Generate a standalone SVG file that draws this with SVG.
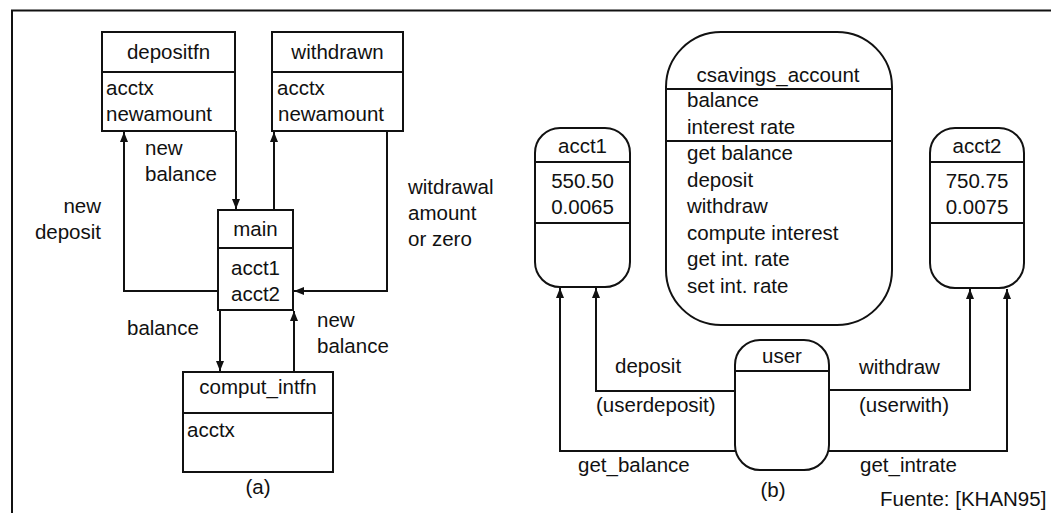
<svg xmlns="http://www.w3.org/2000/svg" width="1051" height="513" viewBox="0 0 1051 513">
  <defs>
    <style>
      text { font-family: "Liberation Sans", Arial, sans-serif; font-size: 20.5px; fill: #111; }
      .c { text-anchor: middle; }
      .r { text-anchor: end; }
      .box { fill: #fff; stroke: #111; stroke-width: 2; }
      .sep { stroke: #111; stroke-width: 2; fill: none; }
      .wire { stroke: #111; stroke-width: 2; fill: none; }
    </style>
    <marker id="arr" viewBox="0 0 10 8" refX="10" refY="4" markerWidth="10" markerHeight="8" markerUnits="userSpaceOnUse" orient="auto">
      <path d="M0,0 L10,4 L0,8 z" fill="#111"/>
    </marker>
  </defs>

  <rect width="1051" height="513" fill="#fff"/>
  <!-- outer frame (right and bottom run past the page) -->
  <rect x="12" y="10.5" width="1100" height="600" fill="none" stroke="#111" stroke-width="2"/>

  <!-- connectors -->
  <g id="connectors">
    <!-- (a) procedural structure -->
    <path class="wire" d="M218,291 H124 V132" marker-end="url(#arr)"/>
    <path class="wire" d="M236,131 V209" marker-end="url(#arr)"/>
    <path class="wire" d="M274,210 V132" marker-end="url(#arr)"/>
    <path class="wire" d="M387,131 V291 H294" marker-end="url(#arr)"/>
    <path class="wire" d="M220,310 V371" marker-end="url(#arr)"/>
    <path class="wire" d="M294,372 V311" marker-end="url(#arr)"/>
    <!-- (b) object structure -->
    <path class="wire" d="M735,451 H560 V288" marker-end="url(#arr)"/>
    <path class="wire" d="M735,391 H596 V288" marker-end="url(#arr)"/>
    <path class="wire" d="M829,390 H970 V289" marker-end="url(#arr)"/>
    <path class="wire" d="M829,451 H1007 V289" marker-end="url(#arr)"/>
  </g>

  <!-- (a) nodes -->
  <g id="depositfn">
    <rect class="box" x="102" y="32" width="133" height="99"/>
    <line class="sep" x1="102" y1="72" x2="235" y2="72"/>
    <text class="c" x="168.5" y="59">depositfn</text>
    <text x="106" y="95">acctx</text>
    <text x="106" y="121">newamount</text>
  </g>
  <g id="withdrawn">
    <rect class="box" x="272" y="32" width="131" height="99"/>
    <line class="sep" x1="272" y1="72" x2="403" y2="72"/>
    <text class="c" x="337.5" y="59">withdrawn</text>
    <text x="277" y="95">acctx</text>
    <text x="278" y="121">newamount</text>
  </g>
  <g id="main">
    <rect class="box" x="218" y="210" width="75" height="100"/>
    <line class="sep" x1="218" y1="248" x2="293" y2="248"/>
    <text class="c" x="255.5" y="236">main</text>
    <text class="c" x="255.5" y="275">acct1</text>
    <text class="c" x="255.5" y="301">acct2</text>
  </g>
  <g id="comput_intfn">
    <rect class="box" x="183" y="372" width="150" height="100"/>
    <line class="sep" x1="183" y1="413" x2="333" y2="413"/>
    <text class="c" x="258" y="394">comput_intfn</text>
    <text x="187" y="437">acctx</text>
  </g>

  <!-- (a) flow labels -->
  <g id="labels-a">
    <text x="145" y="155">new</text>
    <text x="145" y="181">balance</text>
    <text class="r" x="101" y="213">new</text>
    <text class="r" x="101" y="239">deposit</text>
    <text x="408" y="194">witdrawal</text>
    <text x="408" y="220">amount</text>
    <text x="408" y="246">or zero</text>
    <text x="127" y="335">balance</text>
    <text x="317" y="327">new</text>
    <text x="317" y="353">balance</text>
    <text class="c" x="258" y="494">(a)</text>
  </g>

  <!-- (b) nodes -->
  <g id="csavings_account">
    <rect class="box" x="666" y="32" width="226" height="293" rx="55" ry="55"/>
    <line class="sep" x1="666" y1="89" x2="892" y2="89"/>
    <line class="sep" x1="666" y1="141" x2="892" y2="141"/>
    <text class="c" x="778" y="82">csavings_account</text>
    <text x="687" y="107">balance</text>
    <text x="687" y="133.5">interest rate</text>
    <text x="687" y="160">get balance</text>
    <text x="687" y="186.5">deposit</text>
    <text x="687" y="213">withdraw</text>
    <text x="687" y="239.5">compute interest</text>
    <text x="687" y="266">get int. rate</text>
    <text x="687" y="292.5">set int. rate</text>
  </g>
  <g id="acct1">
    <rect class="box" x="535" y="128" width="95" height="159" rx="25" ry="25"/>
    <line class="sep" x1="535" y1="162" x2="630" y2="162"/>
    <line class="sep" x1="535" y1="223" x2="630" y2="223"/>
    <text class="c" x="582.5" y="153">acct1</text>
    <text class="c" x="582.5" y="188">550.50</text>
    <text class="c" x="582.5" y="214">0.0065</text>
  </g>
  <g id="acct2">
    <rect class="box" x="930" y="128" width="94" height="160" rx="25" ry="25"/>
    <line class="sep" x1="930" y1="162" x2="1024" y2="162"/>
    <line class="sep" x1="930" y1="223" x2="1024" y2="223"/>
    <text class="c" x="977" y="153">acct2</text>
    <text class="c" x="977" y="188">750.75</text>
    <text class="c" x="977" y="214">0.0075</text>
  </g>
  <g id="user">
    <rect class="box" x="735" y="340" width="94" height="130" rx="25" ry="25"/>
    <line class="sep" x1="735" y1="371" x2="829" y2="371"/>
    <text class="c" x="782" y="363">user</text>
  </g>

  <!-- (b) message labels -->
  <g id="labels-b">
    <text x="615" y="373">deposit</text>
    <text x="596" y="412">(userdeposit)</text>
    <text x="578" y="472">get_balance</text>
    <text x="859" y="374">withdraw</text>
    <text x="859" y="412">(userwith)</text>
    <text x="860" y="472">get_intrate</text>
    <text class="c" x="773" y="497">(b)</text>
    <text x="880" y="506">Fuente: [KHAN95]</text>
  </g>
</svg>
